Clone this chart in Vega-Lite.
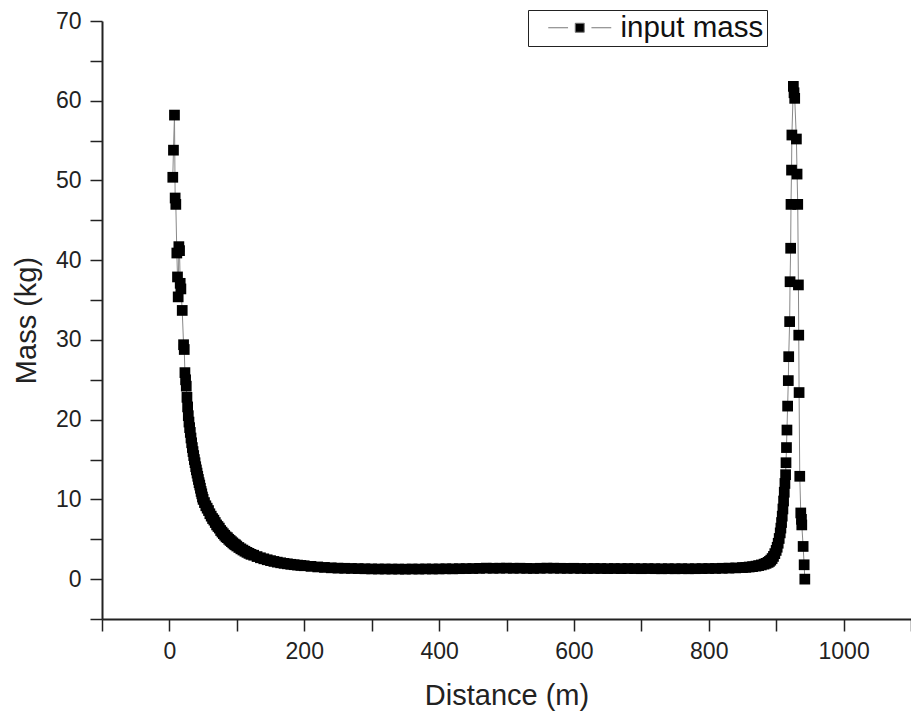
{
  "$schema": "https://vega.github.io/schema/vega-lite/v6.json",
  "width": 809,
  "height": 598,
  "autosize": "none",
  "padding": {"left": 102, "top": 21, "right": 0, "bottom": 95},
  "background": "white",
  "config": {
    "view": {"stroke": null},
    "font": "Liberation Sans",
    "axis": {
      "grid": false,
      "domainColor": "#222",
      "domainWidth": 2,
      "tickColor": "#222",
      "tickWidth": 1.5,
      "tickSize": 12,
      "labelFont": "Liberation Sans",
      "labelFontSize": 23,
      "labelColor": "#222",
      "titleFont": "Liberation Sans",
      "titleFontSize": 29,
      "titleFontWeight": "normal",
      "titleColor": "#222"
    }
  },
  "data": {
    "values": [
      {"d": 5, "m": 50.4}, {"d": 6, "m": 53.8}, {"d": 7.5, "m": 58.2}, {"d": 8.5, "m": 47.8}, {"d": 9.5, "m": 47.0},
      {"d": 11, "m": 40.9}, {"d": 12, "m": 37.9}, {"d": 13, "m": 35.4}, {"d": 14, "m": 41.7}, {"d": 15, "m": 41.2},
      {"d": 16, "m": 37.1}, {"d": 17, "m": 36.4}, {"d": 19, "m": 33.7}, {"d": 21, "m": 29.4}, {"d": 22, "m": 28.8},
      {"d": 23, "m": 25.9}, {"d": 24, "m": 25.0}, {"d": 25, "m": 24.2}, {"d": 26, "m": 22.8}, {"d": 27, "m": 21.6},
      {"d": 28, "m": 20.5}, {"d": 29, "m": 19.7}, {"d": 30, "m": 19.0}, {"d": 31, "m": 18.4}, {"d": 32, "m": 17.7},
      {"d": 33, "m": 17.1}, {"d": 34, "m": 16.5}, {"d": 35, "m": 16.0}, {"d": 36, "m": 15.5}, {"d": 37, "m": 15.0},
      {"d": 38, "m": 14.6}, {"d": 39, "m": 14.1}, {"d": 40, "m": 13.7}, {"d": 41, "m": 13.3}, {"d": 42, "m": 12.9},
      {"d": 43, "m": 12.5}, {"d": 44, "m": 12.1}, {"d": 45, "m": 11.8}, {"d": 46, "m": 11.4}, {"d": 47, "m": 11.0},
      {"d": 48, "m": 10.7}, {"d": 49, "m": 10.3}, {"d": 50, "m": 10.0}, {"d": 52, "m": 9.6}, {"d": 54, "m": 9.2},
      {"d": 56, "m": 8.9}, {"d": 58, "m": 8.6}, {"d": 60, "m": 8.2}, {"d": 62, "m": 7.9}, {"d": 64, "m": 7.6},
      {"d": 66, "m": 7.4}, {"d": 68, "m": 7.1}, {"d": 70, "m": 6.8}, {"d": 72, "m": 6.6}, {"d": 74, "m": 6.4},
      {"d": 76, "m": 6.1}, {"d": 78, "m": 5.9}, {"d": 80, "m": 5.7}, {"d": 82, "m": 5.5}, {"d": 84, "m": 5.3},
      {"d": 86, "m": 5.2}, {"d": 88, "m": 5.0}, {"d": 90, "m": 4.85}, {"d": 92, "m": 4.7}, {"d": 94, "m": 4.55},
      {"d": 96, "m": 4.4}, {"d": 98, "m": 4.3}, {"d": 100, "m": 4.15}, {"d": 103, "m": 3.97}, {"d": 106, "m": 3.8},
      {"d": 109, "m": 3.65}, {"d": 112, "m": 3.5}, {"d": 115, "m": 3.36}, {"d": 118, "m": 3.23}, {"d": 121, "m": 3.11},
      {"d": 125, "m": 3.0}, {"d": 130, "m": 2.83}, {"d": 135, "m": 2.68}, {"d": 140, "m": 2.55}, {"d": 145, "m": 2.43},
      {"d": 150, "m": 2.32}, {"d": 155, "m": 2.22}, {"d": 160, "m": 2.13}, {"d": 165, "m": 2.05}, {"d": 170, "m": 1.98},
      {"d": 175, "m": 1.92}, {"d": 180, "m": 1.86}, {"d": 185, "m": 1.81}, {"d": 190, "m": 1.76}, {"d": 195, "m": 1.72},
      {"d": 200, "m": 1.68}, {"d": 210, "m": 1.6}, {"d": 220, "m": 1.53}, {"d": 230, "m": 1.47}, {"d": 240, "m": 1.42},
      {"d": 250, "m": 1.38}, {"d": 260, "m": 1.36}, {"d": 270, "m": 1.34}, {"d": 280, "m": 1.32}, {"d": 290, "m": 1.3},
      {"d": 300, "m": 1.28}, {"d": 310, "m": 1.27}, {"d": 320, "m": 1.27}, {"d": 330, "m": 1.26}, {"d": 340, "m": 1.26},
      {"d": 350, "m": 1.25}, {"d": 360, "m": 1.27}, {"d": 370, "m": 1.26}, {"d": 380, "m": 1.28}, {"d": 390, "m": 1.27},
      {"d": 400, "m": 1.28}, {"d": 410, "m": 1.3}, {"d": 420, "m": 1.29}, {"d": 430, "m": 1.31}, {"d": 440, "m": 1.32},
      {"d": 450, "m": 1.33}, {"d": 460, "m": 1.35}, {"d": 470, "m": 1.38}, {"d": 480, "m": 1.36}, {"d": 490, "m": 1.37},
      {"d": 500, "m": 1.38}, {"d": 510, "m": 1.36}, {"d": 520, "m": 1.37}, {"d": 530, "m": 1.35}, {"d": 540, "m": 1.34},
      {"d": 550, "m": 1.36}, {"d": 560, "m": 1.38}, {"d": 570, "m": 1.37}, {"d": 580, "m": 1.36}, {"d": 590, "m": 1.35},
      {"d": 600, "m": 1.36}, {"d": 610, "m": 1.34}, {"d": 620, "m": 1.33}, {"d": 630, "m": 1.34}, {"d": 640, "m": 1.33},
      {"d": 650, "m": 1.32}, {"d": 660, "m": 1.33}, {"d": 670, "m": 1.32}, {"d": 680, "m": 1.33}, {"d": 690, "m": 1.32},
      {"d": 700, "m": 1.31}, {"d": 710, "m": 1.32}, {"d": 720, "m": 1.31}, {"d": 730, "m": 1.3}, {"d": 740, "m": 1.31},
      {"d": 750, "m": 1.3}, {"d": 760, "m": 1.31}, {"d": 770, "m": 1.3}, {"d": 780, "m": 1.31}, {"d": 790, "m": 1.32},
      {"d": 800, "m": 1.33}, {"d": 810, "m": 1.34}, {"d": 820, "m": 1.36}, {"d": 830, "m": 1.38}, {"d": 840, "m": 1.41},
      {"d": 850, "m": 1.45}, {"d": 855, "m": 1.48}, {"d": 860, "m": 1.52}, {"d": 865, "m": 1.57}, {"d": 870, "m": 1.63},
      {"d": 874, "m": 1.7}, {"d": 878, "m": 1.78}, {"d": 882, "m": 1.88}, {"d": 885, "m": 1.98}, {"d": 888, "m": 2.1},
      {"d": 890, "m": 2.22}, {"d": 892, "m": 2.38}, {"d": 894, "m": 2.58}, {"d": 896, "m": 2.85}, {"d": 898, "m": 3.2},
      {"d": 900, "m": 3.6}, {"d": 901.5, "m": 4.0}, {"d": 903, "m": 4.5}, {"d": 904.5, "m": 5.1}, {"d": 906, "m": 5.8},
      {"d": 907, "m": 6.4}, {"d": 908, "m": 7.1}, {"d": 909, "m": 7.9}, {"d": 910, "m": 8.8}, {"d": 911, "m": 9.8},
      {"d": 912, "m": 10.9}, {"d": 913, "m": 12.0}, {"d": 914, "m": 13.1}, {"d": 914.6, "m": 14.6}, {"d": 915.3, "m": 16.5},
      {"d": 916, "m": 18.7}, {"d": 917, "m": 21.7}, {"d": 918, "m": 24.9}, {"d": 918.6, "m": 27.9}, {"d": 920, "m": 32.3},
      {"d": 920.6, "m": 37.3}, {"d": 921.5, "m": 41.5}, {"d": 922, "m": 47.0}, {"d": 922.8, "m": 51.3}, {"d": 923.3, "m": 55.7},
      {"d": 925.5, "m": 61.8}, {"d": 926.5, "m": 61.0}, {"d": 927.5, "m": 60.3}, {"d": 930, "m": 55.2}, {"d": 931, "m": 50.8},
      {"d": 932, "m": 47.0}, {"d": 933, "m": 36.9}, {"d": 933.5, "m": 30.6}, {"d": 934, "m": 23.4}, {"d": 935, "m": 12.9},
      {"d": 936.5, "m": 8.3}, {"d": 937.5, "m": 7.5}, {"d": 938, "m": 6.8}, {"d": 940, "m": 4.1}, {"d": 941.5, "m": 1.8},
      {"d": 942.5, "m": 0.0}
    ]
  },
  "encoding": {
    "x": {
      "field": "d",
      "type": "quantitative",
      "scale": {"domain": [-100, 1100], "nice": false, "zero": false},
      "axis": {
        "title": "Distance (m)",
        "values": [-100, 0, 100, 200, 300, 400, 500, 600, 700, 800, 900, 1000, 1100],
        "format": "d",
        "labelExpr": "datum.value >= 0 && datum.value <= 1000 && datum.value % 200 == 0 ? datum.label : ''",
        "labelPadding": 9,
        "titlePadding": 18
      }
    },
    "y": {
      "field": "m",
      "type": "quantitative",
      "scale": {"domain": [-5, 70], "nice": false, "zero": false},
      "axis": {
        "title": "Mass (kg)",
        "values": [-5, 0, 5, 10, 15, 20, 25, 30, 35, 40, 45, 50, 55, 60, 65, 70],
        "format": "d",
        "labelExpr": "datum.value >= 0 && datum.value % 10 == 0 ? datum.label : ''",
        "labelPadding": 9,
        "titlePadding": 14
      }
    }
  },
  "layer": [
    {
      "mark": {"type": "line", "color": "#888888", "strokeWidth": 1}
    },
    {
      "mark": {"type": "point", "shape": "square", "filled": true, "size": 115, "opacity": 1},
      "encoding": {
        "color": {
          "datum": "input mass",
          "scale": {"range": ["#000000"]},
          "legend": {
            "title": null,
            "orient": "none",
            "legendX": 426,
            "legendY": -11,
            "strokeColor": "#222",
            "padding": 3,
            "symbolType": "M-7,0H-2.6M2.6,0H7M-1,-1H1V1H-1Z",
            "symbolSize": 81,
            "symbolStrokeColor": "#777777",
            "symbolStrokeWidth": 1,
            "symbolFillColor": "#000000",
            "symbolOffset": 34,
            "labelOffset": 26,
            "labelFont": "Liberation Sans",
            "labelFontSize": 29.5,
            "labelColor": "#111",
            "labelLimit": 0,
            "labelExpr": "datum.label + '\u2002\u2009'"
          }
        }
      }
    }
  ]
}
